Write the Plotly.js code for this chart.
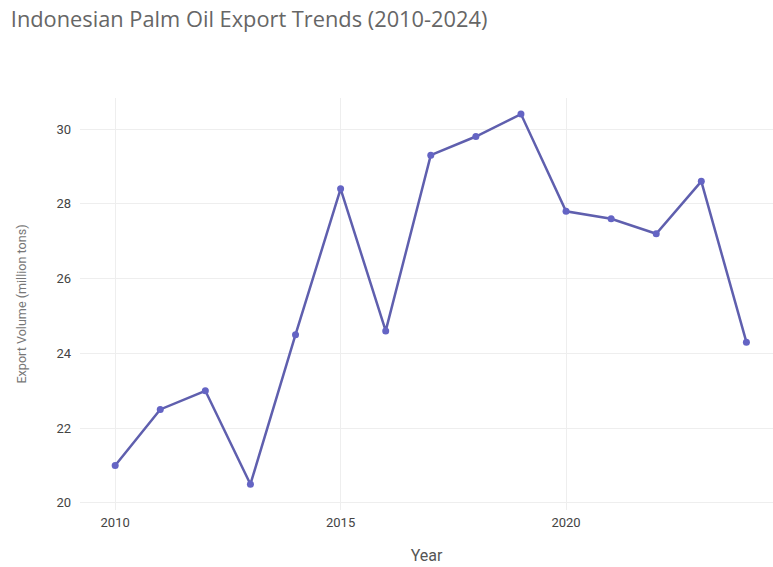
<!DOCTYPE html>
<html>
<head>
<meta charset="utf-8">
<script src="https://cdn.plot.ly/plotly-3.0.1.min.js"></script>
<style>html,body{margin:0;padding:0;background:#fff;}#chart{width:773px;height:567px;}</style>
</head>
<body>
<div id="chart"></div>
<script>
const years = [2010, 2011, 2012, 2013, 2014, 2015, 2016, 2017, 2018, 2019, 2020, 2021, 2022, 2023, 2024];
const exportVolume = [21.0, 22.5, 23.0, 20.5, 24.5, 28.4, 24.6, 29.3, 29.8, 30.4, 27.8, 27.6, 27.2, 28.6, 24.3];
const xTicks = [2010, 2015, 2020];
const yTicks = [20, 22, 24, 26, 28, 30];

const trace = {
  x: years,
  y: exportVolume,
  type: 'scatter',
  mode: 'lines+markers',
  line: {color: '#5f5fae', width: 2.5},
  marker: {color: '#6464c4', size: 7},
  hoverinfo: 'x+y'
};

const layout = {
  width: 773,
  height: 567,
  paper_bgcolor: '#ffffff',
  plot_bgcolor: '#ffffff',
  margin: {l: 80, r: 0, t: 98, b: 57},
  font: {family: 'Roboto, "Open Sans", sans-serif', color: '#444'},
  title: {
    text: 'Indonesian Palm Oil Export Trends (2010-2024)',
    x: 0.014, xanchor: 'left', y: 0.966, yanchor: 'middle',
    font: {family: '"Open Sans", "Noto Sans", sans-serif', size: 21.8, color: '#666'}
  },
  xaxis: {
    range: [2009.22, 2024.59],
    tickvals: xTicks,
    ticktext: xTicks.map(String),
    showgrid: true, gridcolor: '#eeeeee', gridwidth: 1,
    zeroline: false, showline: false,
    tickfont: {size: 13, color: '#444'},
    ticks: '', ticklen: 0,
    ticklabelstandoff: 3,
    title: {text: 'Year', font: {size: 16, color: '#555'}, standoff: 20}
  },
  yaxis: {
    range: [19.81, 30.83],
    tickvals: yTicks,
    ticktext: yTicks.map(String),
    showgrid: true, gridcolor: '#eeeeee', gridwidth: 1,
    zeroline: false, showline: false,
    tickfont: {size: 13, color: '#444'},
    ticks: '', ticklen: 0,
    ticklabelstandoff: 8,
    title: {text: 'Export Volume (million tons)', font: {size: 12.6, color: '#777'}, standoff: 26}
  },
  showlegend: false
};

Plotly.newPlot('chart', [trace], layout, {displayModeBar: false, staticPlot: true});
</script>
</body>
</html>
